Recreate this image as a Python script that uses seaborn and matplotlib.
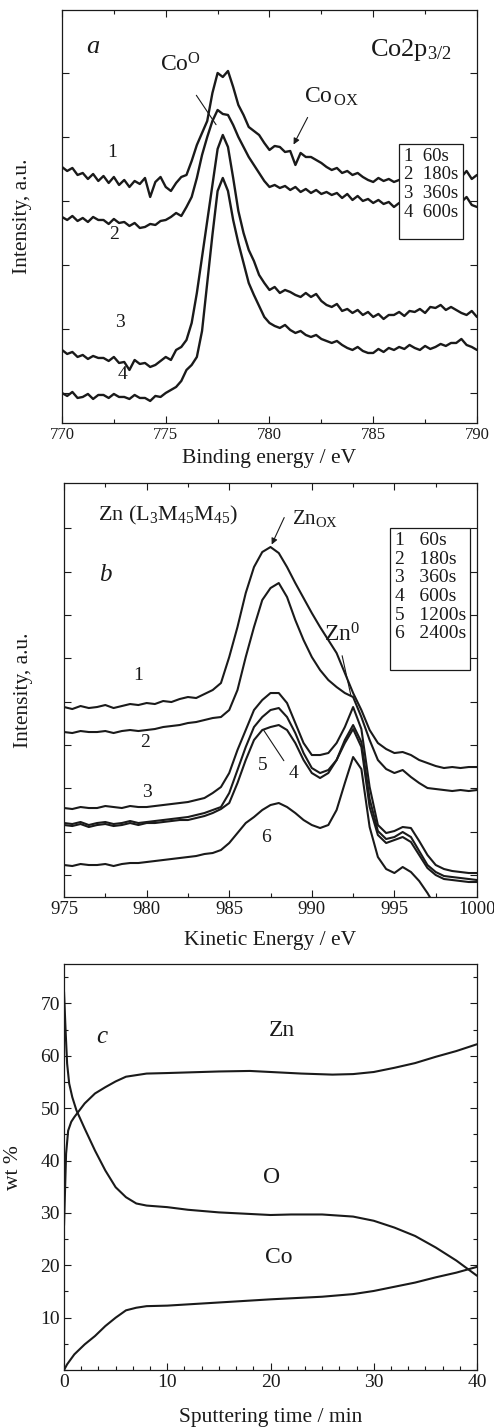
import numpy as np
import pandas as pd
import matplotlib
matplotlib.use("Agg")
import matplotlib.pyplot as plt
from matplotlib.ticker import MultipleLocator, AutoMinorLocator, NullFormatter
from matplotlib.patches import Rectangle
import seaborn as sns

# ---- panel a: Co2p3/2 XPS spectra (intensity, arbitrary units) ----
be_ev = np.arange(770, 790.01, 0.25)
co_60s = [256, 252, 255, 248, 250, 244, 249, 242,
          247, 240, 246, 238, 243, 236, 242, 239,
          245, 226, 241, 246, 236, 232, 240, 246,
          248, 262, 278, 290, 302, 330, 350, 346,
          352, 336, 318, 308, 296, 292, 288, 280,
          273, 277, 276, 271, 272, 258, 270, 266,
          266, 263, 260, 256, 253, 255, 250, 252,
          248, 250, 246, 243, 241, 245, 242, 244,
          241, 243, 240, 243, 241, 242, 244, 241,
          245, 243, 246, 244, 248, 246, 252, 244,
          248]
co_180s = [206, 203, 207, 202, 205, 201, 206, 203,
           203, 199, 204, 200, 201, 197, 200, 195,
           196, 199, 198, 202, 203, 206, 210, 207,
           216, 226, 245, 268, 286, 302, 313, 309,
           308, 298, 286, 276, 266, 258, 250, 242,
           236, 238, 235, 237, 233, 236, 231, 234,
           230, 233, 229, 231, 228, 230, 225, 229,
           223, 227, 222, 224, 220, 223, 219, 221,
           216, 220, 218, 221, 219, 222, 220, 223,
           221, 224, 222, 225, 223, 221, 226, 218,
           216]
co_360s = [73, 69, 71, 66, 68, 64, 67, 65,
           65, 62, 66, 60, 61, 53, 63, 59,
           60, 56, 58, 62, 66, 63, 73, 76,
           83, 100, 130, 166, 202, 238, 274, 288,
           276, 245, 212, 190, 173, 162, 148, 140,
           133, 136, 130, 133, 131, 128, 126, 130,
           126, 129, 122, 118, 116, 119, 112, 114,
           110, 113, 108, 111, 106, 109, 104, 108,
           108, 111, 107, 112, 111, 114, 110, 116,
           115, 118, 113, 116, 113, 110, 108, 112,
           106]
co_600s = [30, 27, 31, 25, 26, 29, 24, 28,
           28, 25, 29, 26, 26, 24, 28, 25,
           25, 22, 27, 26, 30, 33, 36, 42,
           53, 58, 66, 92, 140, 188, 232, 245,
           232, 203, 180, 160, 140, 128, 117, 106,
           100, 97, 95, 98, 93, 90, 92, 88,
           86, 88, 84, 82, 80, 82, 78, 75,
           73, 76, 72, 70, 70, 74, 71, 75,
           73, 76, 74, 78, 75, 73, 77, 74,
           76, 79, 77, 80, 80, 84, 78, 76,
           73]
co_runs = ["1", "2", "3", "4"]
co_legend = ["1  60s", "2  180s", "3  360s", "4  600s"]
co_yticks = [30, 94, 158, 222, 286, 350]

# ---- panel b: Zn L3M45M45 Auger spectra ----
ke_ev = np.arange(975, 1000.01, 0.5)
zn_60s = [190, 188, 191, 189, 190, 192, 189, 191, 193, 192,
          194, 193, 196, 195, 198, 200, 199, 203, 207, 214,
          240, 270, 304, 330, 345, 350, 344, 330, 314, 299,
          284, 270, 257, 244, 224, 204, 187, 167, 154, 148,
          144, 145, 142, 137, 134, 131, 129, 130, 129, 130,
          130]
zn_180s = [165, 164, 166, 165, 165, 166, 164, 166, 167, 166,
           167, 168, 170, 171, 172, 174, 175, 177, 179, 180,
           187, 207, 240, 270, 297, 309, 314, 300, 277, 257,
           240, 227, 217, 210, 204, 200, 180, 157, 137, 128,
           124, 127, 120, 114, 109, 108, 107, 106, 107, 106,
           107]
zn_360s = [89, 88, 90, 89, 89, 91, 90, 89, 91, 90,
           90, 91, 92, 93, 94, 95, 97, 99, 104, 110,
           124, 147, 167, 187, 197, 204, 204, 194, 174, 154,
           142, 142, 144, 154, 170, 190, 168, 110, 72, 64,
           66, 70, 69, 56, 42, 32, 28, 26, 25, 24,
           24]
zn_600s = [74, 73, 75, 72, 74, 75, 73, 74, 76, 74,
           75, 76, 77, 78, 79, 80, 82, 84, 87, 90,
           104, 127, 150, 170, 180, 187, 189, 180, 164, 144,
           129, 124, 127, 137, 157, 172, 155, 98, 66, 58,
           60, 65, 60, 46, 32, 25, 21, 20, 19, 18,
           17]
zn_1200s = [72, 71, 73, 70, 72, 73, 71, 72, 74, 72,
            74, 74, 75, 76, 77, 77, 79, 81, 84, 88,
            94, 114, 137, 157, 167, 170, 172, 167, 154, 137,
            124, 119, 124, 137, 154, 168, 150, 90, 62, 54,
            57, 60, 55, 42, 29, 22, 18, 17, 16, 15,
            15]
zn_2400s = [32, 31, 33, 32, 32, 33, 31, 33, 34, 34,
            35, 36, 37, 38, 39, 40, 41, 43, 44, 47,
            54, 64, 74, 80, 87, 92, 94, 90, 84, 77,
            72, 69, 72, 87, 114, 140, 128, 70, 40, 28,
            24, 30, 25, 16, 4, -10, -25, -40, -55, -70,
            -85]
zn_runs = ["1", "2", "3", "4", "5", "6"]
zn_legend = ["1   60s", "2   180s", "3   360s", "4   600s", "5   1200s", "6   2400s"]
zn_yticks = [22, 65, 109, 152, 195, 239, 282, 325, 369]

# ---- panel c: depth profile, wt % ----
t_zn = [0, 0.2, 0.4, 0.7, 1, 1.5, 2, 3, 4, 5, 6, 7, 8, 10, 15, 18, 20, 23, 26, 28, 30, 32, 34, 36, 38, 40]
wt_zn = [27.6, 41.3, 45.7, 47.4, 48.3, 49.6, 50.9, 52.8, 54.0, 55.1, 56.0, 56.3, 56.6, 56.7, 57.0, 57.1,
         56.9, 56.6, 56.4, 56.5, 56.9, 57.7, 58.6, 59.8, 60.9, 62.2]
t_o = [0, 0.15, 0.3, 0.5, 0.8, 1.2, 2, 3, 4, 5, 6, 7, 8, 10, 12, 15, 18, 20, 22, 25, 28, 30, 32, 34, 36, 38, 40]
wt_o = [72.2, 64.9, 58.5, 54.7, 52.1, 49.6, 46.1, 41.9, 38.1, 34.9, 33.0, 31.8, 31.4, 31.1, 30.6, 30.1,
        29.8, 29.6, 29.7, 29.7, 29.3, 28.5, 27.2, 25.6, 23.4, 20.9, 18.0]
t_co = [0, 0.3, 1, 2, 3, 4, 5, 6, 7, 8, 10, 15, 20, 25, 28, 30, 32, 34, 36, 38, 40]
wt_co = [0.0, 1.1, 3.0, 4.9, 6.5, 8.4, 10.0, 11.4, 11.9, 12.2, 12.3, 12.9, 13.5, 14.0, 14.5, 15.1,
         15.9, 16.7, 17.7, 18.6, 19.7]

sns.set_theme(style="ticks")
plt.rcParams['font.family'] = ['Liberation Serif', 'DejaVu Serif']
plt.rcParams['mathtext.fontset'] = 'custom'
plt.rcParams['mathtext.rm'] = 'Liberation Serif'
plt.rcParams['mathtext.it'] = 'Liberation Serif:italic'
plt.rcParams['mathtext.bf'] = 'Liberation Serif:bold'
plt.rcParams['text.color'] = 'k'
plt.rcParams['axes.labelcolor'] = 'k'


def style_axes(ax, top=True, size=12):
    ax.tick_params(which='both', direction='in', top=top, right=True,
                   colors='k', labelsize=size, pad=3)
    ax.tick_params(which='major', length=5, width=0.8)
    ax.tick_params(which='minor', length=3, width=0.8)
    for s in ax.spines.values():
        s.set_linewidth(0.9)
        s.set_color('k')


def legend_box(ax, x0, y0, x1, y1, lines, size):
    ax.add_patch(Rectangle((x0, y0), x1 - x0, y1 - y0, transform=ax.transAxes,
                           fc='white', ec='k', lw=0.9, zorder=5))
    ax.text(x0 + 0.012, y1 - 0.01, "\n".join(lines), transform=ax.transAxes,
            ha='left', va='top', fontsize=size, linespacing=1.12, zorder=6)


fig = plt.figure(figsize=(4.94, 14.27), dpi=100)
ax_a = fig.add_axes([0.1255, 0.7036, 0.840, 0.2894])
ax_b = fig.add_axes([0.1296, 0.3714, 0.836, 0.2901])
ax_c = fig.add_axes([0.1296, 0.0399, 0.836, 0.2845])

# ---- a ----
df_a = pd.DataFrame({
    'E': np.tile(be_ev, 4),
    'I': co_60s + co_180s + co_360s + co_600s,
    'run': np.repeat(co_runs, len(be_ev)),
})
sns.lineplot(data=df_a, x='E', y='I', units='run', estimator=None, color='k',
             lw=1.7, ax=ax_a, legend=False)
ax_a.set_xlim(770, 790)
ax_a.set_ylim(0, 413)
ax_a.xaxis.set_major_locator(MultipleLocator(5))
ax_a.xaxis.set_minor_locator(MultipleLocator(2.5))
ax_a.set_yticks(co_yticks)
ax_a.yaxis.set_major_formatter(NullFormatter())
style_axes(ax_a, size=12)
ax_a.set_xlabel('Binding energy / eV', fontsize=15.5)
ax_a.xaxis.set_label_coords(0.5, -0.085)
ax_a.xaxis.label.set_va('center')
ax_a.set_ylabel('Intensity, a.u.', fontsize=15.5)
ax_a.yaxis.set_label_coords(-0.096, 0.5)
ax_a.yaxis.label.set_va('center')

ax_a.text(771.5, 376, 'a', fontsize=19, style='italic', ha='center', va='center')
ax_a.text(786.8, 373, 'Co2p$_{3/2}$', fontsize=19, ha='center', va='center')
ax_a.text(775.7, 358, r'Co$^{\mathrm{O}}$', fontsize=17, ha='center', va='center')
ax_a.annotate('', xy=(777.5, 296), xytext=(776.4, 330),
              arrowprops=dict(arrowstyle='-', lw=0.8, color='k'))
ax_a.text(783.0, 326, r'Co$_{\,\mathrm{OX}}$', fontsize=17, ha='center', va='center')
ax_a.annotate('', xy=(781.1, 276), xytext=(781.9, 308),
              arrowprops=dict(arrowstyle='-|>', lw=0.8, color='k', mutation_scale=9))
for lab, x, y in zip(co_runs, [772.4, 772.5, 772.8, 772.9], [270, 188, 100, 48]):
    ax_a.text(x, y, lab, fontsize=14, ha='center', va='center')
legend_box(ax_a, 0.812, 0.446, 0.966, 0.676, co_legend, 13.5)

# ---- b ----
df_b = pd.DataFrame({
    'E': np.tile(ke_ev, 6),
    'I': zn_60s + zn_180s + zn_360s + zn_600s + zn_1200s + zn_2400s,
    'run': np.repeat(zn_runs, len(ke_ev)),
})
sns.lineplot(data=df_b, x='E', y='I', units='run', estimator=None, color='k',
             lw=1.5, ax=ax_b, legend=False)
ax_b.set_xlim(975, 1000)
ax_b.set_ylim(0, 414)
ax_b.xaxis.set_major_locator(MultipleLocator(5))
ax_b.xaxis.set_minor_locator(MultipleLocator(2.5))
ax_b.set_yticks(zn_yticks)
ax_b.yaxis.set_major_formatter(NullFormatter())
style_axes(ax_b, size=13.5)
ax_b.set_xlabel('Kinetic Energy / eV', fontsize=15.5)
ax_b.xaxis.set_label_coords(0.5, -0.104)
ax_b.xaxis.label.set_va('center')
ax_b.set_ylabel('Intensity, a.u.', fontsize=15.5)
ax_b.yaxis.set_label_coords(-0.099, 0.5)
ax_b.yaxis.label.set_va('center')

ax_b.text(977.06, 382, r'Zn (L$_3$M$_{45}$M$_{45}$)', fontsize=16, ha='left', va='center')
ax_b.text(977.1, 322, 'b', fontsize=18, style='italic', ha='left', va='center')
ax_b.text(988.8, 379, r'Zn$_{\mathrm{OX}}$', fontsize=15, ha='left', va='center')
ax_b.annotate('', xy=(987.5, 350), xytext=(988.4, 382),
              arrowprops=dict(arrowstyle='-|>', lw=0.8, color='k', mutation_scale=9))
ax_b.text(991.8, 262, r'Zn$^{0}$', fontsize=17, ha='center', va='center')
ax_b.annotate('', xy=(992.4, 199), xytext=(991.8, 244),
              arrowprops=dict(arrowstyle='-', lw=0.8, color='k'))
for lab, x, y in zip(zn_runs, [979.5, 979.9, 980.0, 988.9, 987.0, 987.2],
                     [222, 155, 105, 124, 132, 60]):
    ax_b.text(x, y, lab, fontsize=14, ha='center', va='center')
ax_b.annotate('', xy=(987.0, 169), xytext=(988.4, 134),
              arrowprops=dict(arrowstyle='-', lw=0.8, color='k'))
legend_box(ax_b, 0.789, 0.548, 0.983, 0.891, zn_legend, 14)

# ---- c ----
df_c = pd.DataFrame({
    't': t_zn + t_o + t_co,
    'wt': wt_zn + wt_o + wt_co,
    'el': ['Zn'] * len(t_zn) + ['O'] * len(t_o) + ['Co'] * len(t_co),
})
sns.lineplot(data=df_c, x='t', y='wt', units='el', estimator=None, color='k',
             lw=1.5, ax=ax_c, legend=False)
ax_c.set_xlim(0, 40)
ax_c.set_ylim(0, 77.5)
ax_c.xaxis.set_major_locator(MultipleLocator(10))
ax_c.xaxis.set_minor_locator(AutoMinorLocator(6))
ax_c.set_yticks([10, 20, 30, 40, 50, 60, 70])
ax_c.yaxis.set_minor_locator(MultipleLocator(5))
style_axes(ax_c, top=False, size=14)
ax_c.set_xlabel('Sputtering time / min', fontsize=15.5)
ax_c.xaxis.set_label_coords(0.5, -0.118)
ax_c.xaxis.label.set_va('center')
ax_c.set_ylabel('wt %', fontsize=15.5)
ax_c.yaxis.set_label_coords(-0.123, 0.5)
ax_c.yaxis.label.set_va('center')

ax_c.text(3.7, 63.6, 'c', fontsize=18, style='italic', ha='center', va='center')
ax_c.text(21.1, 64.9, 'Zn', fontsize=17, ha='center', va='center')
ax_c.text(20.1, 36.8, 'O', fontsize=17, ha='center', va='center')
ax_c.text(20.8, 21.5, 'Co', fontsize=17, ha='center', va='center')

fig.savefig('out.png', dpi=100)
